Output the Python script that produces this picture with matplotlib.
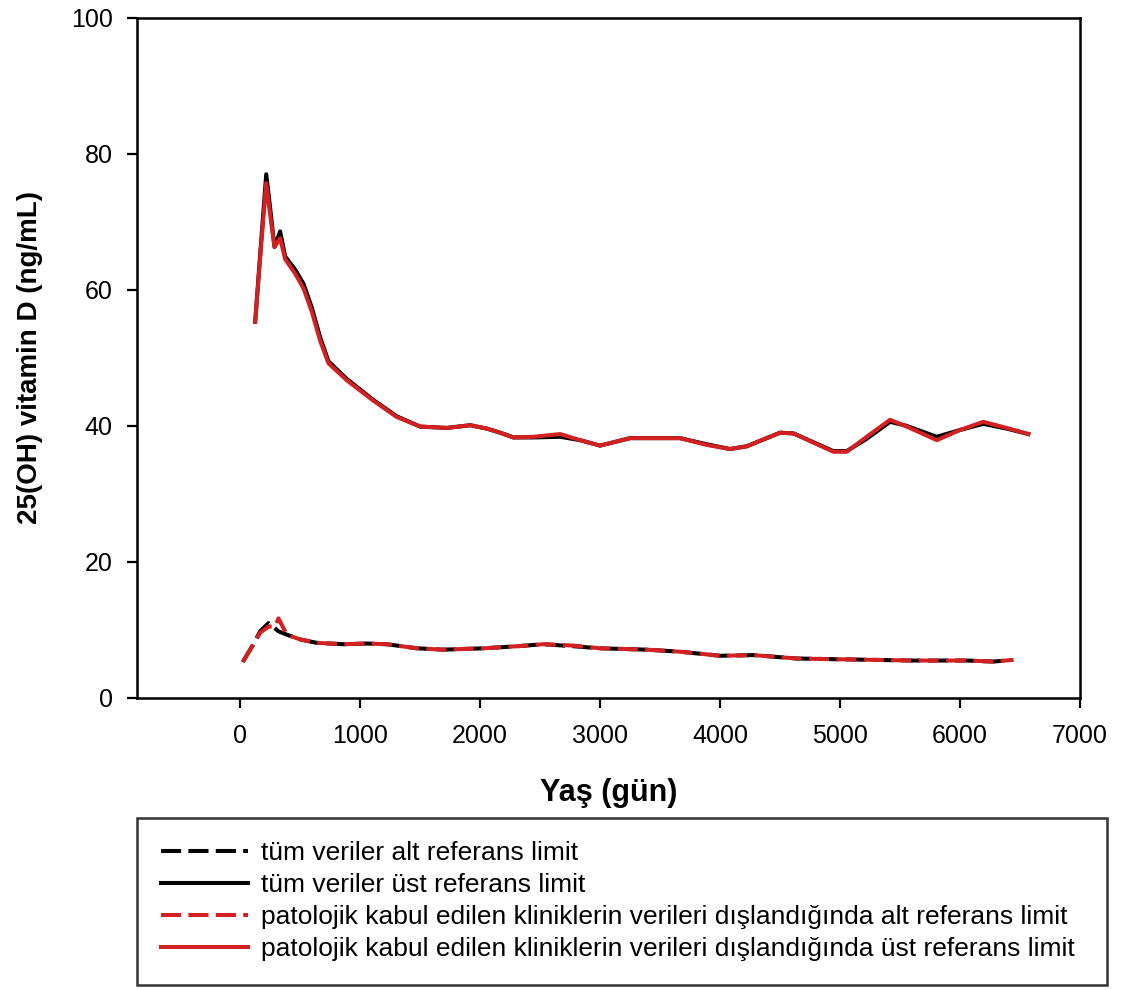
import matplotlib.pyplot as plt

plt.rcParams['font.family'] = ['Liberation Sans', 'DejaVu Sans']

# upper reference limits (age in days, ng/mL)
x_upper = [125, 170, 217, 250, 286, 333, 375, 458, 528, 597, 667, 736, 889, 1111,
           1306, 1500, 1722, 1917, 2056, 2167, 2278, 2444, 2667, 2833, 3000, 3250,
           3667, 3889, 4083, 4222, 4500, 4611, 4944, 5056, 5222, 5417, 5556, 5806,
           6000, 6194, 6389, 6569]
all_upper = [55.3, 66.0, 77.0, 72.0, 66.3, 68.6, 64.9, 63.0, 60.9, 57.4, 53.0, 49.5,
             46.9, 43.8, 41.4, 39.9, 39.7, 40.1, 39.6, 39.0, 38.3, 38.3, 38.4, 37.9,
             37.1, 38.2, 38.2, 37.3, 36.6, 37.0, 39.0, 38.9, 36.3, 36.3, 38.1, 40.6,
             40.0, 38.4, 39.4, 40.3, 39.6, 38.8]
excl_upper = [55.3, 65.5, 75.7, 71.0, 66.3, 67.6, 64.5, 62.4, 60.2, 56.8, 52.5, 49.2,
              46.7, 43.7, 41.3, 39.9, 39.7, 40.1, 39.6, 39.0, 38.3, 38.4, 38.8, 37.9,
              37.1, 38.2, 38.2, 37.2, 36.6, 37.0, 39.0, 38.9, 36.2, 36.2, 38.4, 40.9,
              39.9, 37.9, 39.4, 40.6, 39.7, 38.8]

# lower reference limits
x_lower = [22, 100, 167, 236, 292, 319, 389, 500, 639, 861, 1056, 1222, 1472, 1694,
           2028, 2306, 2528, 2778, 3000, 3389, 3667, 4000, 4278, 4639, 4944, 5611,
           6056, 6278, 6444]
all_lower = [5.3, 7.6, 9.8, 11.0, 10.2, 9.8, 9.3, 8.6, 8.1, 7.9, 8.0, 7.9, 7.3, 7.1,
             7.3, 7.6, 7.9, 7.6, 7.3, 7.1, 6.8, 6.2, 6.3, 5.8, 5.7, 5.5, 5.5, 5.35, 5.6]
excl_lower = [5.3, 7.6, 9.6, 10.5, 10.5, 11.7, 9.3, 8.6, 8.1, 7.9, 8.0, 7.9, 7.3, 7.1,
              7.3, 7.6, 7.9, 7.7, 7.3, 7.1, 6.8, 6.2, 6.3, 5.8, 5.7, 5.5, 5.5, 5.35, 5.6]

labels = ['tüm veriler alt referans limit',
          'tüm veriler üst referans limit',
          'patolojik kabul edilen kliniklerin verileri dışlandığında alt referans limit',
          'patolojik kabul edilen kliniklerin verileri dışlandığında üst referans limit']

red = '#d42020'
dash = (0, (5.0, 1.8))
lw = 2.9

fig = plt.figure(figsize=(11.23, 9.9), dpi=100)
ax = fig.add_axes([0.122, 0.295, 0.8397, 0.687])

l1, = ax.plot(x_lower, all_lower, color='black', lw=lw, linestyle=dash)
l2, = ax.plot(x_upper, all_upper, color='black', lw=lw)
l3, = ax.plot(x_lower, excl_lower, color=red, lw=lw, linestyle=dash)
l4, = ax.plot(x_upper, excl_upper, color=red, lw=lw)

ax.set_xlim(-860, 7000)
ax.set_ylim(0, 100)
ax.set_xticks(range(0, 7001, 1000))
ax.set_yticks(range(0, 101, 20))
ax.tick_params(direction='out', length=7.5, width=1.6, labelsize=18)
ax.tick_params(axis='x', pad=11)
ax.tick_params(axis='y', pad=10)
for s in ax.spines.values():
    s.set_linewidth(1.8)

ax.set_xlabel('Yaş (gün)', fontsize=22, fontweight='bold', labelpad=22)
ax.set_ylabel('25(OH) vitamin D (ng/mL)', fontsize=20, fontweight='bold', labelpad=20)

leg = fig.legend([l1, l2, l3, l4], labels, loc='upper left',
                 bbox_to_anchor=(0.122, 0.174, 0.864, 0.0), mode='expand',
                 fontsize=19, frameon=True, fancybox=False, edgecolor='black',
                 handlelength=3.3, handletextpad=0.5, labelspacing=0.3,
                 borderpad=0.9, borderaxespad=0)
leg.get_frame().set_linewidth(1.8)

plt.savefig('out.png', dpi=100)
